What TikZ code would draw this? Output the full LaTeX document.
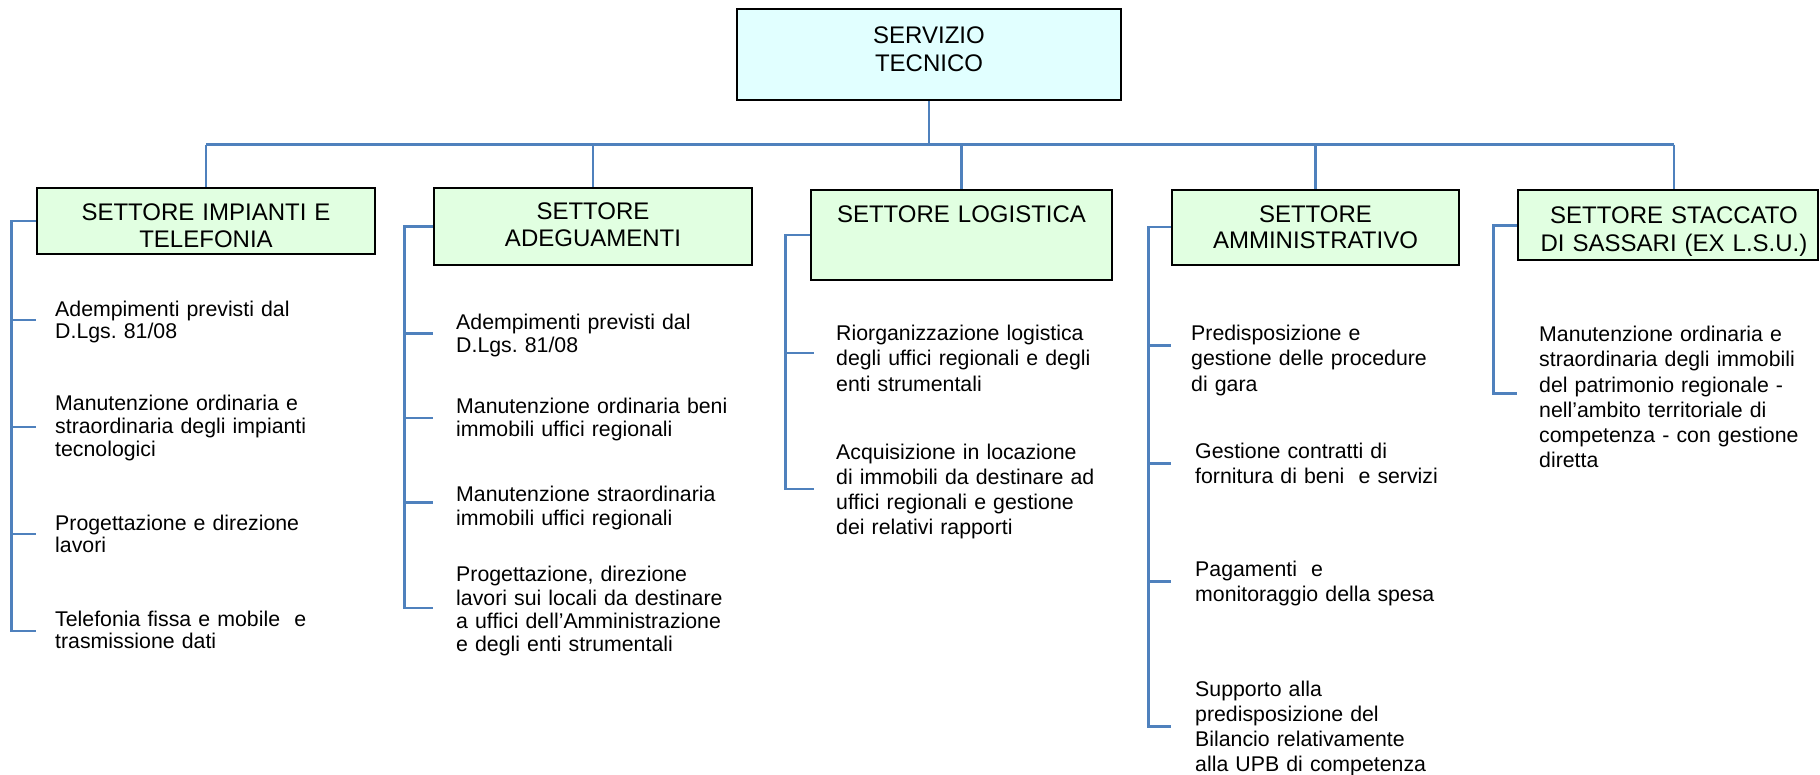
\documentclass[tikz,border=0pt]{standalone}
\usepackage{fontspec}
\setmainfont{Liberation Sans}
\usetikzlibrary{backgrounds}
\definecolor{connblue}{HTML}{4F81BD}
\definecolor{hdrgreen}{HTML}{E1FFE1}
\definecolor{topcyan}{HTML}{E1FFFF}
\tikzset{
  conn/.style={draw=connblue, line width=2.6pt},
  boxbase/.style={draw=black, line width=2.6pt, inner sep=0pt},
  topbox/.style={boxbase, fill=topcyan},
  hdrbox/.style={boxbase, fill=hdrgreen},
  boxtxt/.style={anchor=base, inner sep=0pt, text width=330pt, align=center},
  toptxt/.style={boxtxt, font=\fontsize{24}{28.4}\selectfont},
  hdrtxt/.style={boxtxt, font=\fontsize{24}{27}\selectfont},
  itemtxt/.style={anchor=base west, inner sep=0pt, text width=330pt, align=left},
  itemA/.style={itemtxt, font=\fontsize{21.3}{22.7}\selectfont},
  itemB/.style={itemtxt, font=\fontsize{21.3}{23.3}\selectfont},
  itemC/.style={itemtxt, font=\fontsize{21.3}{25.2}\selectfont}
}
\begin{document}
\frenchspacing
\begin{tikzpicture}[x=1pt,y=-1pt]
\useasboundingbox (0,0) rectangle (1820,774);

% top box
\node[topbox, minimum width=384pt, minimum height=91pt] (top) at (929,54.5) {};
\node[toptxt] (topt) at (top.center |- 0,43.3) {SERVIZIO\\TECNICO};

% header boxes
\node[hdrbox, minimum width=338pt, minimum height=66pt] (h1) at (206,221) {};
\node[hdrbox, minimum width=318pt, minimum height=77pt] (h2) at (593,226.5) {};
\node[hdrbox, minimum width=301pt, minimum height=90pt] (h3) at (961.5,235) {};
\node[hdrbox, minimum width=287pt, minimum height=75pt] (h4) at (1315.5,227.5) {};
\node[hdrbox, minimum width=300pt, minimum height=70pt] (h5) at (1668,225) {};

\node[hdrtxt] (h1t) at (h1.center |- 0,220) {SETTORE IMPIANTI E\\TELEFONIA};
\node[hdrtxt] (h2t) at (h2.center |- 0,219.5) {SETTORE\\ADEGUAMENTI};
\node[hdrtxt] (h3t) at (h3.center |- 0,222.7) {SETTORE LOGISTICA};
\node[hdrtxt, font=\fontsize{24}{26.5}\selectfont] (h4t) at (h4.center |- 0,222.3) {SETTORE\\AMMINISTRATIVO};
\node[hdrtxt, font=\fontsize{24}{28.4}\selectfont] (h5t) at ([xshift=6pt]h5.center |- 0,223.3) {SETTORE STACCATO\\DI SASSARI (EX L.S.U.)};

% items column 1
\node[itemA] (i11) at (55,316) {Adempimenti previsti dal\\D.Lgs. 81/08};
\node[itemA] (i12) at (55,410.7) {Manutenzione ordinaria e\\straordinaria degli impianti\\tecnologici};
\node[itemA] (i13) at (55,530) {Progettazione e direzione\\lavori};
\node[itemA] (i14) at (55,626) {Telefonia fissa e mobile\ \ e\\trasmissione dati};

% items column 2
\node[itemB] (i21) at (456,329.3) {Adempimenti previsti dal\\D.Lgs. 81/08};
\node[itemB] (i22) at (456,413.3) {Manutenzione ordinaria beni\\immobili uffici regionali};
\node[itemB] (i23) at (456,501.7) {Manutenzione straordinaria\\immobili uffici regionali};
\node[itemB] (i24) at (456,581.7) {Progettazione, direzione\\lavori sui locali da destinare\\a uffici dell’Amministrazione\\e degli enti strumentali};

% items column 3
\node[itemC] (i31) at (836,340.7) {Riorganizzazione logistica\\degli uffici regionali e degli\\enti strumentali};
\node[itemC] (i32) at (836,459.3) {Acquisizione in locazione\\di immobili da destinare ad\\uffici regionali e gestione\\dei relativi rapporti};

% items column 4
\node[itemC] (i41) at (1191,340.6) {Predisposizione e\\gestione delle procedure\\di gara};
\node[itemC] (i42) at (1195,458) {Gestione contratti di\\fornitura di beni\ \ e servizi};
\node[itemC] (i43) at (1195,576.4) {Pagamenti\ \ e\\monitoraggio della spesa};
\node[itemC] (i44) at (1195,696) {Supporto alla\\predisposizione del\\Bilancio relativamente\\alla UPB di competenza};

% items column 5
\node[itemC] (i51) at (1539,341.7) {Manutenzione ordinaria e\\straordinaria degli immobili\\del patrimonio regionale -\\nell’ambito territoriale di\\competenza - con gestione\\diretta};

% connectors
\coordinate (bus) at (927.7,144.5);
\coordinate (h5top) at ([xshift=6pt]h5.north);
\coordinate (b1) at (11.7,221);
\coordinate (b2) at (404.3,226.7);
\coordinate (b3) at (785.3,235);
\coordinate (b4) at (1148.3,227);
\coordinate (b5) at (1493.3,225.7);

\begin{scope}[on background layer]
\draw[conn] (top.south) -- (top.south |- bus);
\draw[conn] (h1.north |- bus) -- (h5top |- bus);
\draw[conn] (h1.north |- bus) -- (h1.north);
\draw[conn] (h2.north |- bus) -- (h2.north);
\draw[conn] (h3.north |- bus) -- (h3.north);
\draw[conn] (h4.north |- bus) -- (h4.north);
\draw[conn] (h5top |- bus) -- (h5top);

% column 1 bracket
\draw[conn] (h1.west |- b1) -- (b1) -- (b1 |- 0,631) -- (h1.west |- 0,631);
\draw[conn] (b1 |- 0,320) -- (h1.west |- 0,320);
\draw[conn] (b1 |- 0,427) -- (h1.west |- 0,427);
\draw[conn] (b1 |- 0,534) -- (h1.west |- 0,534);

% column 2 bracket
\draw[conn] (h2.west |- b2) -- (b2) -- (b2 |- 0,608) -- (h2.west |- 0,608);
\draw[conn] (b2 |- 0,333.7) -- (h2.west |- 0,333.7);
\draw[conn] (b2 |- 0,418) -- (h2.west |- 0,418);
\draw[conn] (b2 |- 0,502.7) -- (h2.west |- 0,502.7);

% column 3 bracket
\draw[conn] (h3.west |- b3) -- (b3) -- (b3 |- 0,489) -- ([xshift=4pt]h3.west |- 0,489);
\draw[conn] (b3 |- 0,353) -- ([xshift=4pt]h3.west |- 0,353);

% column 4 bracket
\draw[conn] (h4.west |- b4) -- (b4) -- (b4 |- 0,726.6) -- (h4.west |- 0,726.6);
\draw[conn] (b4 |- 0,345.6) -- (h4.west |- 0,345.6);
\draw[conn] (b4 |- 0,463.5) -- (h4.west |- 0,463.5);
\draw[conn] (b4 |- 0,581.4) -- (h4.west |- 0,581.4);

% column 5 bracket
\draw[conn] (h5.west |- b5) -- (b5) -- (b5 |- 0,393.3) -- (h5.west |- 0,393.3);
\end{scope}
\end{tikzpicture}
\end{document}
